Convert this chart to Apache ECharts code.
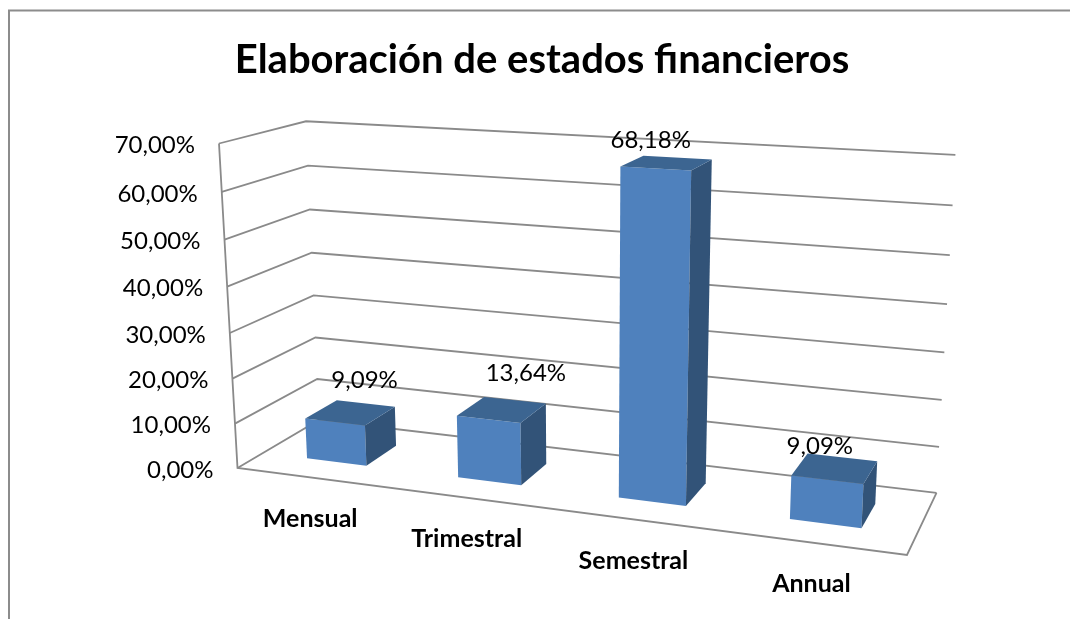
<!DOCTYPE html>
<html>
<head>
<meta charset="utf-8">
<title>Elaboración de estados financieros</title>
<script src="https://cdn.jsdelivr.net/npm/echarts@6/dist/echarts.min.js"></script>
<style>
html,body{margin:0;padding:0;background:#fff;}
#chart{width:1070px;height:619px;}
</style>
</head>
<body>
<div id="chart"></div>
<script>
var chartTitle = "Elaboración de estados financieros";
var categories = ["Mensual", "Trimestral", "Semestral", "Annual"];
var percentValues = [9.09, 13.64, 68.18, 9.09];
var valueLabels = ["9,09%", "13,64%", "68,18%", "9,09%"];
var tickValues = [0, 10, 20, 30, 40, 50, 60, 70];
var tickLabels = ["0,00%", "10,00%", "20,00%", "30,00%", "40,00%", "50,00%", "60,00%", "70,00%"];

// the excel label boxes are not centered on the bars
var labelOffsets = [[14, -32], [24, -36], [-16, -23], [-15, -22]];

// perspective of the box: corners of the front-left edges and the weights
var O = [237.5, 468], U = [907, 555], V = [219, 143.5], D = [319, 420];
var wU = 0.8792, wV = 0.95, wD = 1.09;
var W = 1070, H = 619;

function project(api, x, y, d) {
  var p = api.coord([x, y]);
  var u = p[0] / W, v = 1 - p[1] / H;
  var w = 1 + (wU - 1) * u + (wV - 1) * v + (wD - 1) * d;
  var out = [];
  for (var i = 0; i < 2; i++) {
    out.push((O[i] + u * (wU * U[i] - O[i]) + v * (wV * V[i] - O[i]) + d * (wD * D[i] - O[i])) / w);
  }
  out[1] -= 4 * u * v; // small fix, top right corner was a bit low
  return out;
}

function poly(points, color) {
  return { type: "polygon", shape: { points: points }, style: { fill: color } };
}

function text(str, x, y, font, align) {
  return {
    type: "text", x: x, y: y,
    style: { text: str, font: font, fill: "#000", align: align, verticalAlign: "middle" }
  };
}

var gridColor = "#8a8a8a";

function line(points) {
  return {
    type: "polyline",
    shape: { points: points },
    style: { stroke: gridColor, lineWidth: 1.8, fill: null }
  };
}

function renderGrid(params, api) {
  var val = api.value(0);
  return line([project(api, 0, val, 0), project(api, 0, val, 1), project(api, 4, val, 1)]);
}

// left wall edge, floor front edge and floor right edge
function renderFrame(params, api) {
  var top = tickValues[tickValues.length - 1];
  return line([project(api, 0, top, 0), project(api, 0, 0, 0), project(api, 4, 0, 0), project(api, 4, 0, 1)]);
}

function renderBar(params, api) {
  var c = api.value(0) + 0.5, val = api.value(1);
  var x0 = c - 0.2, x1 = c + 0.2, d0 = 0.3, d1 = 0.7;
  var fbl = project(api, x0, 0, d0), fbr = project(api, x1, 0, d0);
  var ftl = project(api, x0, val, d0), ftr = project(api, x1, val, d0);
  var bbr = project(api, x1, 0, d1), btl = project(api, x0, val, d1), btr = project(api, x1, val, d1);
  return {
    type: "group",
    children: [
      poly([fbl, fbr, ftr, ftl], "#4f81bd"),
      poly([fbr, bbr, btr, ftr], "#325378"),
      poly([ftl, ftr, btr, btl], "#3c6591")
    ]
  };
}

function renderValueLabel(params, api) {
  var i = params.dataIndex;
  var p = project(api, api.value(0) + 0.5, api.value(1), 0.5);
  return text(valueLabels[i], p[0] + labelOffsets[i][0], p[1] + labelOffsets[i][1], "24px Lato", "center");
}

function renderCategory(params, api) {
  var p = project(api, api.value(0) + 0.5, 0, 0);
  return text(categories[params.dataIndex], p[0] - 2, p[1] + 41, "bold 25px Lato", "center");
}

function renderTick(params, api) {
  var p = project(api, 0, api.value(0), 0);
  return text(tickLabels[params.dataIndex], p[0] - 24, p[1] + 2, "24px Lato", "right");
}

var barData = percentValues.map(function (v, i) { return [i, v]; });
var catData = categories.map(function (c, i) { return [i]; });
var tickData = tickValues.map(function (v) { return [v]; });

var chart = echarts.init(document.getElementById("chart"), null, { renderer: "canvas" });
chart.setOption({
  animation: false,
  backgroundColor: "#fff",
  title: {
    text: chartTitle,
    left: 537, top: 35, textAlign: "center",
    textStyle: { fontFamily: "Lato", fontWeight: "bold", fontSize: 40, color: "#000" }
  },
  grid: { left: 0, right: 0, top: 0, bottom: 0 },
  xAxis: { type: "value", min: 0, max: 4, show: false },
  yAxis: { type: "value", min: 0, max: 70, show: false },
  graphic: [{
    type: "polyline",
    shape: { points: [[9, 619], [9, 10.5], [1070, 10.5]] },
    style: { stroke: "#8c8c8c", lineWidth: 2, fill: null }
  }],
  series: [
    { type: "custom", silent: true, clip: false, data: tickData, encode: { y: 0 }, renderItem: renderGrid, z: 1 },
    { type: "custom", silent: true, clip: false, data: [[0]], encode: { x: 0 }, renderItem: renderFrame, z: 1 },
    { type: "custom", silent: true, clip: false, data: barData, renderItem: renderBar, z: 2 },
    { type: "custom", silent: true, clip: false, data: tickData, encode: { y: 0 }, renderItem: renderTick, z: 3 },
    { type: "custom", silent: true, clip: false, data: catData, encode: { x: 0 }, renderItem: renderCategory, z: 3 },
    { type: "custom", silent: true, clip: false, data: barData, renderItem: renderValueLabel, z: 4 }
  ]
});
</script>
</body>
</html>
